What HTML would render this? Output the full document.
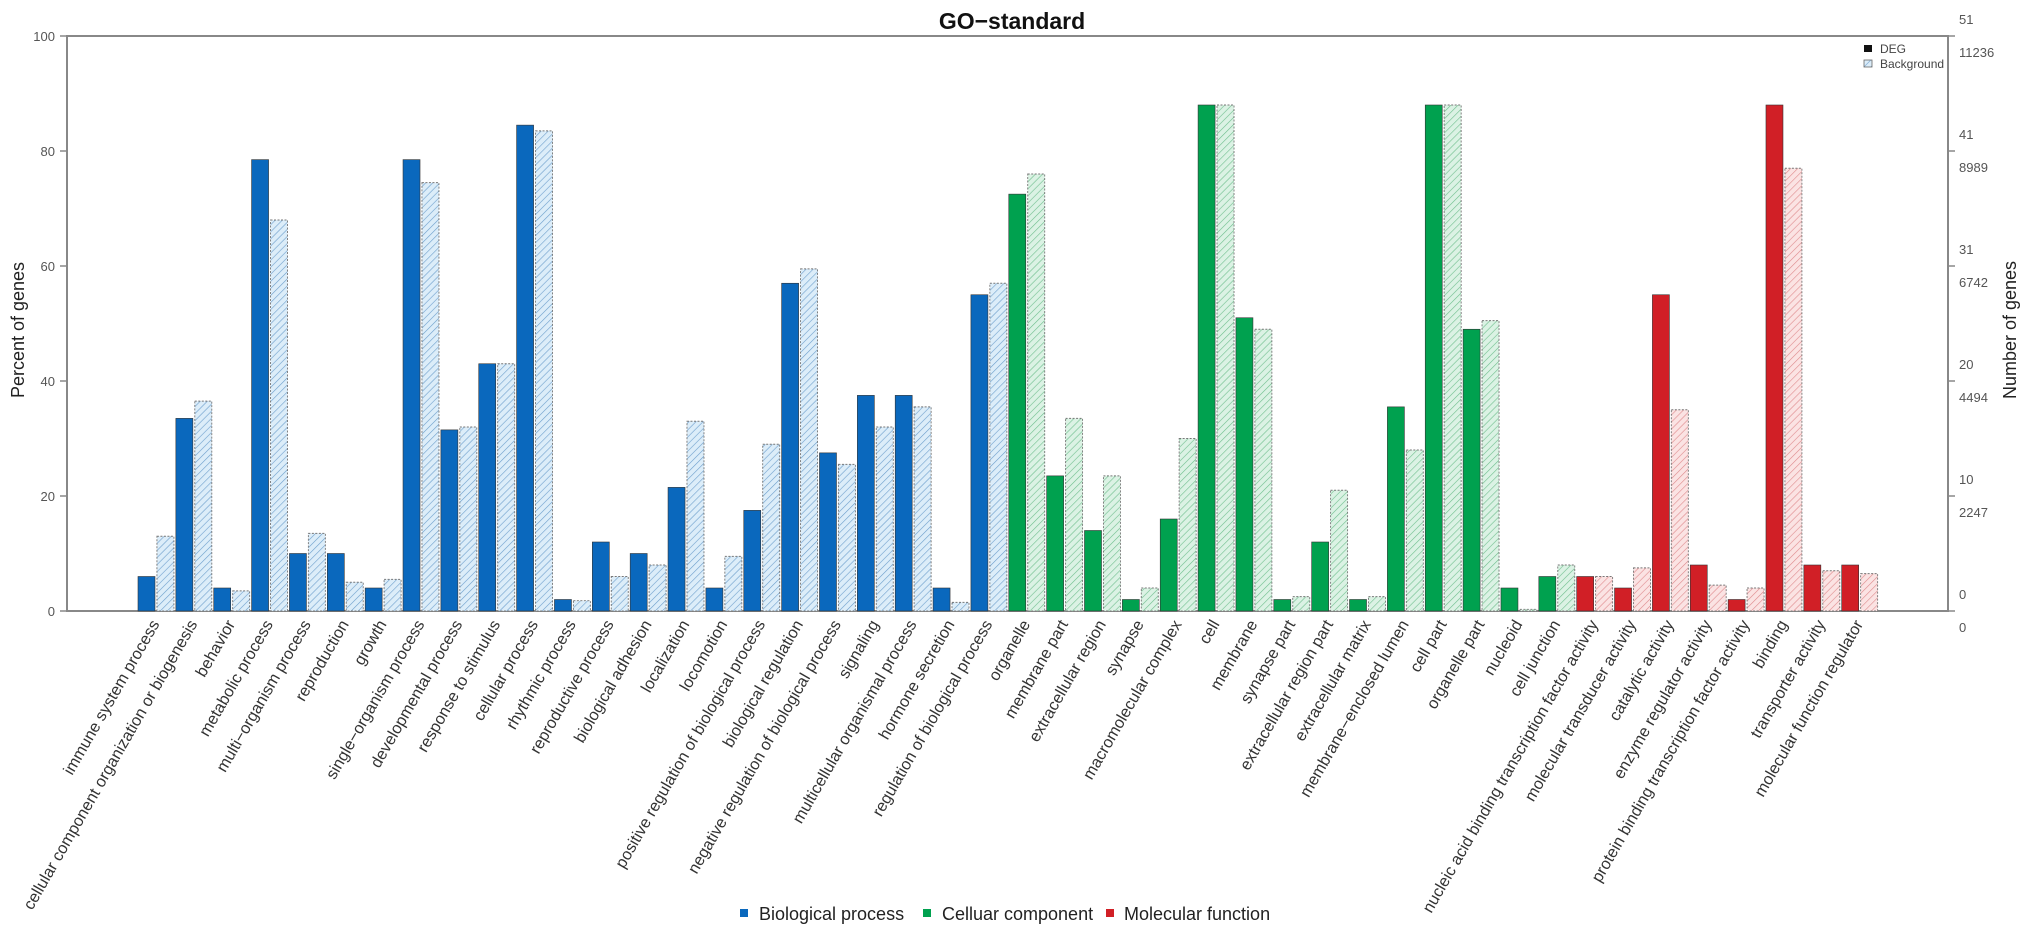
<!DOCTYPE html>
<html><head><meta charset="utf-8"><style>
body{margin:0;background:#fff;}
svg{display:block;font-family:"Liberation Sans",Arial,sans-serif;}
</style></head><body>
<svg id="chart" width="2031" height="946" viewBox="0 0 2031 946" xmlns="http://www.w3.org/2000/svg">
<defs>
<pattern id="hb" patternUnits="userSpaceOnUse" width="5" height="5" patternTransform="rotate(45)"><rect width="5" height="5" fill="#dcedf9"/><line x1="0" y1="0" x2="0" y2="5" stroke="#6d9fcc" stroke-width="1.2"/></pattern>
<pattern id="hg" patternUnits="userSpaceOnUse" width="5" height="5" patternTransform="rotate(45)"><rect width="5" height="5" fill="#dbf2e4"/><line x1="0" y1="0" x2="0" y2="5" stroke="#6fbf8e" stroke-width="1.2"/></pattern>
<pattern id="hr" patternUnits="userSpaceOnUse" width="5" height="5" patternTransform="rotate(45)"><rect width="5" height="5" fill="#fbe3e3"/><line x1="0" y1="0" x2="0" y2="5" stroke="#df8a8d" stroke-width="1.2"/></pattern>
</defs>
<text x="1012" y="29" text-anchor="middle" font-size="23" font-weight="bold" fill="#111">GO−standard</text>
<g id="axes"></g>
<g id="bars"></g>
<g id="labels"></g>
<g>
<rect x="1864" y="45" width="8" height="7" fill="#111"/>
<text x="1880" y="53" font-size="12" fill="#444">DEG</text>
<rect x="1864" y="60" width="8" height="7" fill="url(#hb)" stroke="#666" stroke-width="0.8"/>
<text x="1880" y="68" font-size="12" fill="#444">Background</text>
</g>
<g>
<rect x="740" y="909" width="8" height="8" fill="#0a68bd"/>
<text x="759" y="920" font-size="18" fill="#222">Biological process</text>
<rect x="923" y="909" width="8" height="8" fill="#00a14f"/>
<text x="942" y="920" font-size="18" fill="#222">Celluar component</text>
<rect x="1106" y="909" width="8" height="8" fill="#d11f26"/>
<text x="1124" y="920" font-size="18" fill="#222">Molecular  function</text>
</g>
</svg>
<script>
const categories = ["immune system process","cellular component organization or biogenesis","behavior","metabolic process","multi−organism process","reproduction","growth","single−organism process","developmental process","response to stimulus","cellular process","rhythmic process","reproductive process","biological adhesion","localization","locomotion","positive regulation of biological process","biological regulation","negative regulation of biological process","signaling","multicellular organismal process","hormone secretion","regulation of biological process","organelle","membrane part","extracellular region","synapse","macromolecular complex","cell","membrane","synapse part","extracellular region part","extracellular matrix","membrane−enclosed lumen","cell part","organelle part","nucleoid","cell junction","nucleic acid binding transcription factor activity","molecular transducer activity","catalytic activity","enzyme regulator activity","protein binding transcription factor activity","binding","transporter activity","molecular function regulator"];
const groups = ["BP","BP","BP","BP","BP","BP","BP","BP","BP","BP","BP","BP","BP","BP","BP","BP","BP","BP","BP","BP","BP","BP","BP","CC","CC","CC","CC","CC","CC","CC","CC","CC","CC","CC","CC","CC","CC","CC","MF","MF","MF","MF","MF","MF","MF","MF"];
const degValues = [6,33.5,4,78.5,10,10,4,78.5,31.5,43,84.5,2,12,10,21.5,4,17.5,57,27.5,37.5,37.5,4,55,72.5,23.5,14,2,16,88,51,2,12,2,35.5,88,49,4,6,6,4,55,8,2,88,8,8];
const bgValues = [13,36.5,3.5,68,13.5,5,5.5,74.5,32,43,83.5,1.8,6,8,33,9.5,29,59.5,25.5,32,35.5,1.5,57,76,33.5,23.5,4,30,88,49,2.5,21,2.5,28,88,50.5,0.3,8,6,7.5,35,4.5,4,77,7,6.5];
const leftTicks = [0,20,40,60,80,100];
const rightTopLabels = ["0","10","20","31","41","51"];
const rightBottomLabels = ["0","2247","4494","6742","8989","11236"];

const NS="http://www.w3.org/2000/svg";
const X0=67,X1=1948,Y0=611,Y1=36,BAR0=138,SLOT=18.93,BW=17;
function y(v){return Y0-(v/100)*(Y0-Y1);}
function bx(i){return BAR0+i*SLOT;}
function mk(tag,attrs,parent){const e=document.createElementNS(NS,tag);for(const k in attrs)e.setAttribute(k,attrs[k]);parent.appendChild(e);return e;}
const axes=document.getElementById('axes'),bars=document.getElementById('bars'),labels=document.getElementById('labels');
const solid={BP:"#0a68bd",CC:"#00a14f",MF:"#d11f26"};
const hatch={BP:"url(#hb)",CC:"url(#hg)",MF:"url(#hr)"};

let frame=mk('path',{d:`M${X0},${Y1}H${X1}V${Y0}H${X0}Z`,fill:'none',stroke:'#888','stroke-width':2},axes);


leftTicks.forEach((t,i)=>{
  const tk=mk('line',{x1:X0-7,x2:X0,y1:y(t),y2:y(t),stroke:'#888','stroke-width':1.5},axes);
  
  
  const tl=mk('text',{x:X0-12,y:y(t)+5,'text-anchor':'end','font-size':13,fill:'#555'},axes);
  
  
  tl.textContent=t;
  const rt=mk('line',{x1:X1,x2:X1+7,y1:y(t),y2:y(t),stroke:'#888','stroke-width':1.5},axes);
  
  
  const r1=mk('text',{x:1959,y:y(t)-12,'font-size':13,fill:'#555'},axes);
  
  
  r1.textContent=rightTopLabels[i];
  const r2=mk('text',{x:1959,y:y(t)+21,'font-size':13,fill:'#555'},axes);
  
  
  r2.textContent=rightBottomLabels[i];
});
const lt=mk('text',{x:0,y:0,transform:'translate(24,330) rotate(-90)','text-anchor':'middle','font-size':18,fill:'#222'},axes);


lt.textContent='Percent of genes';
const rtt=mk('text',{x:0,y:0,transform:'translate(2016,330) rotate(-90)','text-anchor':'middle','font-size':18,fill:'#222'},axes);


rtt.textContent='Number of genes';

categories.forEach((c,i)=>{
  const g=groups[i];
  const d=mk('rect',{x:bx(2*i),y:y(degValues[i]),width:BW,height:Y0-y(degValues[i]),fill:solid[g],stroke:'#333','stroke-width':0.6},bars);
  
  
  const b=mk('rect',{x:bx(2*i+1),y:y(bgValues[i]),width:BW,height:Y0-y(bgValues[i]),fill:hatch[g],stroke:'#777','stroke-width':0.9,'stroke-dasharray':'2,1.5'},bars);
  
  
  const cx=bx(2*i+1)+3, cy=624;
  const t=mk('text',{x:cx,y:cy,transform:`rotate(-60 ${cx} ${cy})`,'text-anchor':'end','font-size':16.3,fill:'#333'},labels);
  
  
  t.textContent=c;
});
</script>
</body></html>
